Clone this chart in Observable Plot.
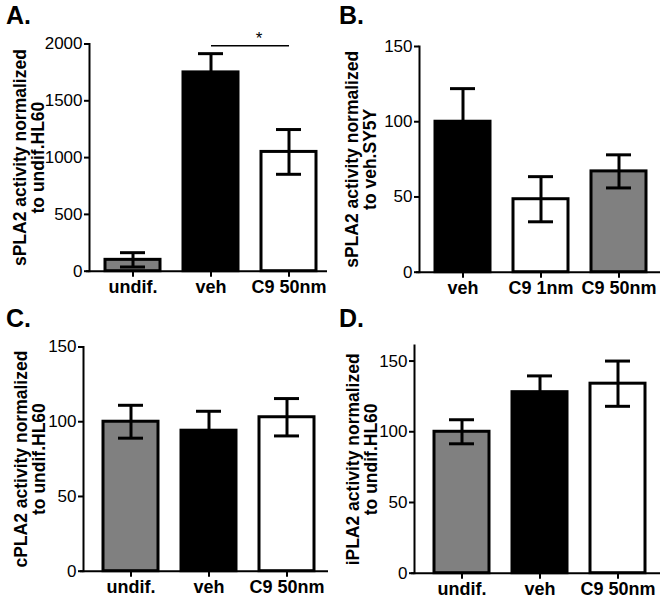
<!DOCTYPE html>
<html>
<head>
<meta charset="utf-8">
<script src="https://cdn.jsdelivr.net/npm/d3@7"></script>
<script src="https://cdn.jsdelivr.net/npm/@observablehq/plot@0.6"></script>
<style>
  html, body { margin: 0; padding: 0; background: #fff; }
  #wrap { position: relative; width: 664px; height: 605px; font-family: "Liberation Sans", Arial, sans-serif; }
  .panel { position: absolute; }
  .letter { position: absolute; font-weight: bold; font-size: 25px; font-family: "Liberation Sans", Arial, sans-serif; }
  .pp g[aria-label="y-axis tick label"] text { font-size: 17px !important; }
  .pp g[aria-label="x-axis tick label"] text { font-size: 18px !important; font-weight: bold !important; }
  .pp g[aria-label="ytitle"] text { font-size: 17.5px !important; font-weight: bold !important; }
  .pp g[aria-label="sig"] text { font-size: 17px !important; }
</style>
</head>
<body>
<div id="wrap"></div>
<script>
// ---- Data ----
const catsA = ["undif.", "veh", "C9 50nm"];
const meansA = [100, 1750, 1050];
const errsA = [63, 165, 197];
const fillsA = ["#808080", "#000000", "#ffffff"];
const ticksA = [0, 500, 1000, 1500, 2000];
const titleA = "sPLA2 activity normalized\nto undif.HL60";

const catsB = ["veh", "C9 1nm", "C9 50nm"];
const meansB = [100, 48.5, 67];
const errsB = [22, 15, 11];
const fillsB = ["#000000", "#ffffff", "#808080"];
const ticksB = [0, 50, 100, 150];
const titleB = "sPLA2 activity normalized\nto veh.SY5Y";

const catsC = ["undif.", "veh", "C9 50nm"];
const meansC = [100, 94, 103];
const errsC = [11, 13, 12.5];
const fillsC = ["#808080", "#000000", "#ffffff"];
const ticksC = [0, 50, 100, 150];
const titleC = "cPLA2 activity normalized\nto undif.HL60";

const catsD = ["undif.", "veh", "C9 50nm"];
const meansD = [100, 128, 134];
const errsD = [8.5, 11.5, 16];
const fillsD = ["#808080", "#000000", "#ffffff"];
const ticksD = [0, 50, 100, 150];
const titleD = "iPLA2 activity normalized\nto undif.HL60";

const sigA = {from: "veh", to: "C9 50nm", y: 1985, label: "*"};

// ---- Rendering ----
const font = "'Liberation Sans', Arial, sans-serif";

function panel(cfg) {
  const data = cfg.cats.map((c, i) => ({cat: c, mean: cfg.means[i], err: cfg.errs[i], fill: cfg.fills[i]}));
  const marks = [
    Plot.barY(data, {x: "cat", y: "mean", fill: "fill", stroke: "#000", strokeWidth: 3}),
    Plot.ruleX(data, {x: "cat", y1: d => d.mean - d.err, y2: d => d.mean + d.err, stroke: "#000", strokeWidth: 3}),
    Plot.tickY(data, {x: "cat", y: d => d.mean + d.err, stroke: "#000", strokeWidth: 3, insetLeft: 15, insetRight: 15}),
    Plot.tickY(data, {x: "cat", y: d => d.mean - d.err, stroke: "#000", strokeWidth: 3, insetLeft: 15, insetRight: 15}),
    Plot.ruleY([0], {stroke: "#000", strokeWidth: 2, insetLeft: -3}),
    Plot.frame({anchor: "left", stroke: "#000", strokeWidth: 2}),
    Plot.axisY({ticks: cfg.ticks, tickSize: 5, tickPadding: 2, fontSize: 17, strokeWidth: 2, label: null, tickFormat: d => String(d)}),
    Plot.axisX({tickSize: 6, tickPadding: 3, fontSize: 18, fontWeight: "bold", strokeWidth: 2, label: null}),
    Plot.text([cfg.title], {text: d => d, frameAnchor: "left", dx: cfg.titleDx, rotate: -90, fontSize: 17.5, fontWeight: "bold", lineAnchor: "middle", lineHeight: 1.0, textAnchor: "middle", ariaLabel: "ytitle"})
  ];
  if (cfg.sig) {
    marks.push(Plot.link([cfg.sig], {x1: d => d.from, x2: d => d.to, y1: "y", y2: "y", stroke: "#000", strokeWidth: 1.5}));
    marks.push(Plot.text([cfg.sig], {x: d => d.to, y: "y", text: "label", dx: -30, dy: -7, fontSize: 17, ariaLabel: "sig"}));
  }
  const chart = Plot.plot({
    width: cfg.width, height: cfg.height,
    marginLeft: cfg.ml, marginRight: cfg.mr, marginTop: cfg.mt, marginBottom: cfg.mb,
    className: "pp",
    style: {fontFamily: font, color: "#000", background: "transparent", overflow: "visible"},
    x: {domain: cfg.cats, range: cfg.xRange, paddingInner: 0.3, paddingOuter: cfg.po},
    y: {domain: cfg.yDomain},
    color: {type: "identity"},
    marks
  });
  chart.classList.add("panel");
  chart.style.left = cfg.left + "px";
  chart.style.top = cfg.top + "px";
  return chart;
}

const wrap = document.getElementById("wrap");
wrap.appendChild(panel({
  cats: catsA, means: meansA, errs: errsA, fills: fillsA, ticks: ticksA, title: titleA, sig: sigA,
  yDomain: [0, 2000], left: 0, top: 0, width: 332, height: 300,
  ml: 89, mr: 5, mt: 43.5, mb: 29.3, xRange: [89, 332], po: 0.2, titleDx: -60
}));
wrap.appendChild(panel({
  cats: catsB, means: meansB, errs: errsB, fills: fillsB, ticks: ticksB, title: titleB,
  yDomain: [0, 150], left: 332, top: 0, width: 332, height: 300,
  ml: 87, mr: 4, mt: 46, mb: 28.3, xRange: [87, 330], po: 0.2, titleDx: -58
}));
wrap.appendChild(panel({
  cats: catsC, means: meansC, errs: errsC, fills: fillsC, ticks: ticksC, title: titleC,
  yDomain: [0, 150], left: 0, top: 300, width: 332, height: 305,
  ml: 83, mr: 4, mt: 46.5, mb: 34.3, xRange: [83, 334], po: 0.25, titleDx: -53
}));
wrap.appendChild(panel({
  cats: catsD, means: meansD, errs: errsD, fills: fillsD, ticks: ticksD, title: titleD,
  yDomain: [0, 161], left: 332, top: 300, width: 332, height: 305,
  ml: 82, mr: 4, mt: 45, mb: 32.3, xRange: [82, 332], po: 0.24, titleDx: -52
}));

const letters = [["A.", 6, 1], ["B.", 339, 1], ["C.", 6, 304], ["D.", 339, 304]];
for (const [t, x, y] of letters) {
  const d = document.createElement("div");
  d.className = "letter";
  d.textContent = t;
  d.style.left = x + "px";
  d.style.top = y + "px";
  wrap.appendChild(d);
}
</script>
</body>
</html>
